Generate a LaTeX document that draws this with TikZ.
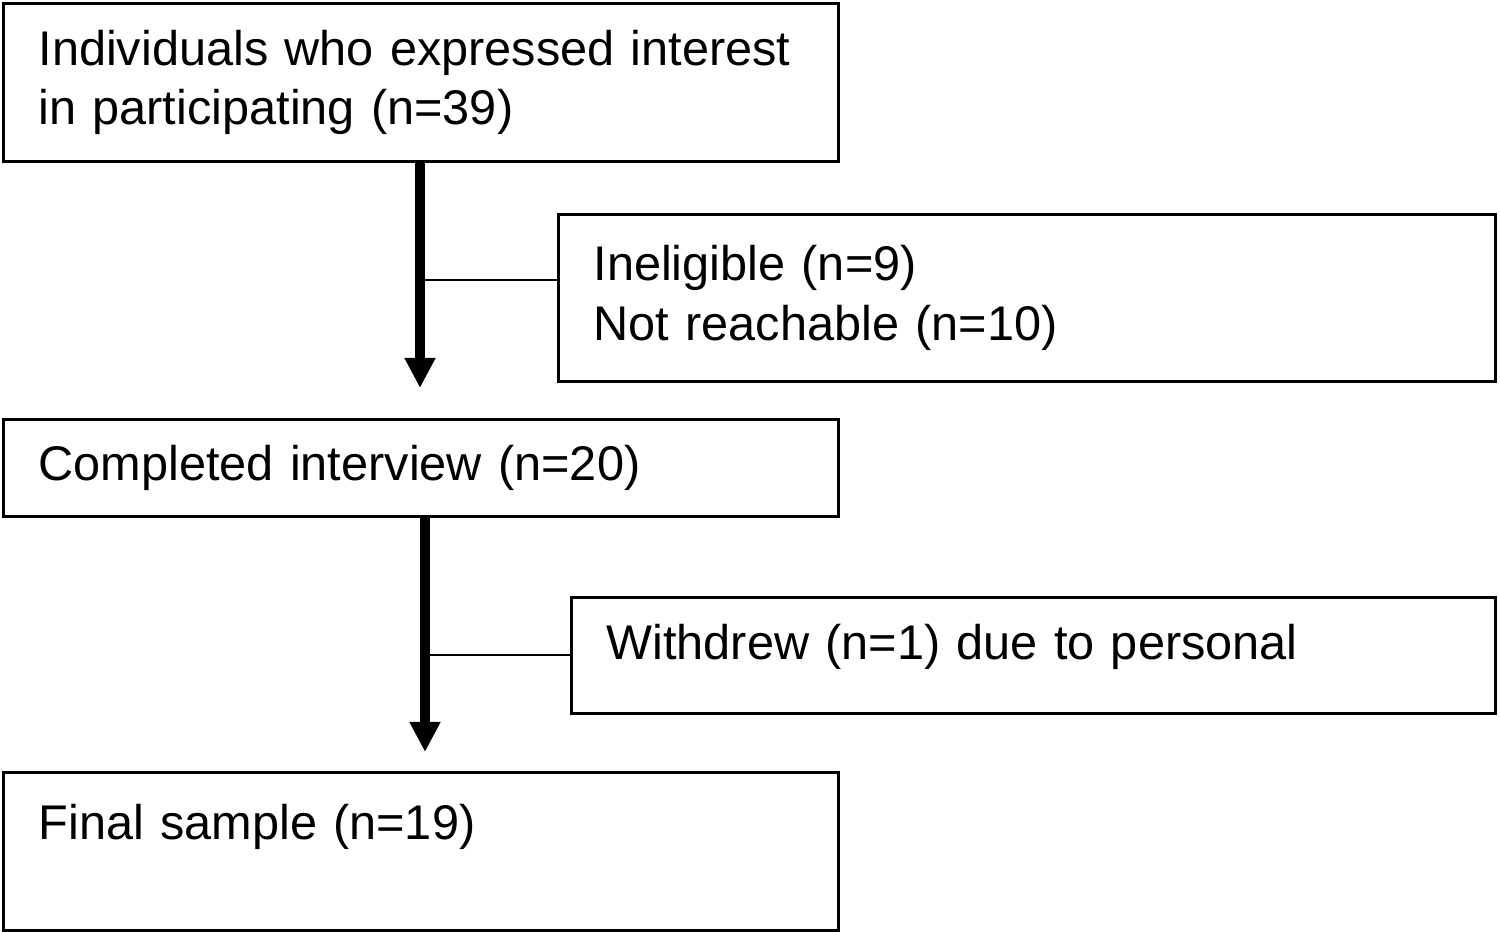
\documentclass[tikz,border=0pt]{standalone}
\usepackage{fontspec}
\setmainfont{Liberation Sans}
\usetikzlibrary{positioning, arrows.meta, calc}
\tikzset{
  stage/.style={rectangle, draw=black, line width=0.85pt, minimum height=1.58cm, text width=7.65cm, align=left, inner xsep=0.35cm, inner ysep=0pt, anchor=north west},
  exclusion/.style={rectangle, draw=black, line width=0.85pt, align=left, inner xsep=0.35cm, inner ysep=0pt, anchor=north west},
  flow/.style={line width=2.8pt, -{Triangle[length=0.3cm, width=0.29cm]}},
  branch/.style={line width=0.6pt}
}

\begin{document}
\begin{tikzpicture}[
        every node/.style={font=\fontsize{13.85}{17}\selectfont} % texto tipo Arial
    ]
        \useasboundingbox (0,0) rectangle (15,9.32);

        \node (interest) [stage] at (0.02,9.30) {Individuals who expressed interest\\ in participating (n=39)};
        \node (lost) [exclusion, text width=8.67cm, minimum height=1.67cm] at (5.57,7.19) {Ineligible (n=9)\\ Not reachable (n=10)};
        \node (interview) [stage, minimum height=0.97cm] at (0.02,5.14) {Completed interview (n=20)};
        \node (withdrew) [exclusion, text width=8.54cm, minimum height=1.16cm, text depth=0.28cm] at (5.70,3.36) {Withdrew (n=1) due to personal};
        \node (final) [stage] at (0.02,1.61) {Final sample (n=19)\\ \mbox{}};

        \coordinate (tip1) at (4.20,5.44);
        \coordinate (split1) at (4.20,6.52);
        \coordinate (tip2) at (4.25,1.80);
        \coordinate (split2) at (4.25,2.77);

        \draw [flow] (interest.south -| tip1) -- (tip1);
        \draw [branch] (split1) -- (split1 -| lost.west);
        \draw [flow] (interview.south -| tip2) -- (tip2);
        \draw [branch] (split2) -- (split2 -| withdrew.west);
    \end{tikzpicture}
\end{document}
